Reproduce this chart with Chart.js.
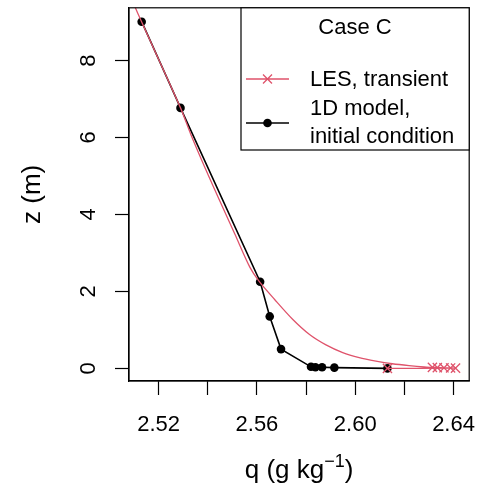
<!DOCTYPE html>
<html>
<head>
<meta charset="utf-8">
<script src="https://cdn.jsdelivr.net/npm/chart.js@4/dist/chart.umd.min.js"></script>
<style>
  html, body { margin: 0; padding: 0; background: #fff; }
  #wrap { width: 477px; height: 489px; }
</style>
</head>
<body>
<div id="wrap"><canvas id="c" width="477" height="489"></canvas></div>
<script>
// LES transient profile, smooth upper part (no markers)
const lesQ = [2.5100, 2.5131, 2.5289, 2.5331, 2.5389, 2.5449, 2.5510, 2.5571, 2.5609, 2.5672, 2.5746, 2.5814, 2.5881, 2.5949, 2.6016, 2.6084, 2.6151, 2.6219, 2.6280];
const lesZ = [9.45, 9.00, 6.77, 6.08, 5.21, 4.35, 3.49, 2.63, 2.26, 1.79, 1.27, 0.88, 0.61, 0.41, 0.28, 0.19, 0.12, 0.07, 0.035];
// LES levels near the surface (drawn with crosses)
const lesNearQ = [2.6314, 2.6334, 2.6361, 2.6388, 2.6408, 2.6131];
const lesNearZ = [0.025, 0.02, 0.015, 0.01, 0.005, 0.0];
// 1D model, initial condition
const modelQ = [2.5131, 2.5289, 2.5613, 2.5652, 2.5698, 2.5820, 2.5838, 2.5865, 2.5915, 2.6131];
const modelZ = [9.01, 6.77, 2.25, 1.35, 0.50, 0.04, 0.03, 0.03, 0.02, 0.0];

const xTicks = [2.52, 2.54, 2.56, 2.58, 2.60, 2.62, 2.64];
const xLabels = [2.52, 2.56, 2.60, 2.64];
const yTicks = [0, 2, 4, 6, 8];

const red = '#DF536B';
const font = '"Liberation Sans", Arial, Helvetica, sans-serif';

const toPts = (qs, zs) => qs.map((q, i) => ({ x: q, y: zs[i] }));
const lesPts = toPts(lesQ, lesZ).concat(toPts(lesNearQ, lesNearZ));

const frame = {
  id: 'frame',
  afterDatasetsDraw(chart) {
    const { ctx, chartArea: a, scales } = chart;
    ctx.save();
    ctx.strokeStyle = '#000';
    ctx.lineWidth = 1.2;
    ctx.strokeRect(a.left, a.top, a.right - a.left, a.bottom - a.top);

    // y tick labels, parallel to the axis
    ctx.fillStyle = '#000';
    ctx.font = '22px ' + font;
    ctx.textAlign = 'center';
    ctx.textBaseline = 'middle';
    scales.y.ticks.forEach(t => {
      const py = scales.y.getPixelForValue(t.value);
      ctx.save();
      ctx.translate(89, py);
      ctx.rotate(-Math.PI / 2);
      ctx.fillText(String(t.value), 0, 0);
      ctx.restore();
    });

    // y title
    ctx.save();
    ctx.font = '26px ' + font;
    ctx.translate(33, (a.top + a.bottom) / 2);
    ctx.rotate(-Math.PI / 2);
    ctx.fillText('z (m)', 0, 0);
    ctx.restore();

    // x title with superscript
    ctx.textAlign = 'left';
    ctx.textBaseline = 'alphabetic';
    const p1 = 'q (g kg', p2 = '\u22121', p3 = ')';
    ctx.font = '26px ' + font;
    const w1 = ctx.measureText(p1).width, w3 = ctx.measureText(p3).width;
    ctx.font = '18px ' + font;
    const w2 = ctx.measureText(p2).width;
    let x0 = (a.left + a.right) / 2 - (w1 + w2 + w3) / 2;
    ctx.font = '26px ' + font;
    ctx.fillText(p1, x0, 478);
    ctx.font = '18px ' + font;
    ctx.fillText(p2, x0 + w1, 467);
    ctx.font = '26px ' + font;
    ctx.fillText(p3, x0 + w1 + w2, 478);

    // legend
    const L = 241, T = a.top, R = a.right, B = 150;
    ctx.fillStyle = '#fff';
    ctx.fillRect(L, T, R - L, B - T);
    ctx.strokeStyle = '#000';
    ctx.lineWidth = 1.2;
    ctx.strokeRect(L, T, R - L, B - T);
    ctx.fillStyle = '#000';
    ctx.font = '22px ' + font;
    ctx.textAlign = 'center';
    ctx.textBaseline = 'middle';
    ctx.fillText('Case C', 355, 28);
    ctx.textAlign = 'left';
    ctx.fillText('LES, transient', 310, 80);
    ctx.fillText('1D model,', 310, 109);
    ctx.fillText('initial condition', 310, 137);

    ctx.strokeStyle = red;
    ctx.lineWidth = 1.3;
    ctx.beginPath();
    ctx.moveTo(246, 79); ctx.lineTo(289, 79);
    const c = 4.5;
    ctx.moveTo(267.5 - c, 79 - c); ctx.lineTo(267.5 + c, 79 + c);
    ctx.moveTo(267.5 - c, 79 + c); ctx.lineTo(267.5 + c, 79 - c);
    ctx.stroke();

    ctx.strokeStyle = '#000';
    ctx.lineWidth = 1.6;
    ctx.beginPath();
    ctx.moveTo(246, 123); ctx.lineTo(289, 123);
    ctx.stroke();
    ctx.beginPath();
    ctx.arc(267.5, 123, 4.3, 0, Math.PI * 2);
    ctx.fill();
    ctx.restore();
  }
};

new Chart(document.getElementById('c'), {
  type: 'scatter',
  data: {
    datasets: [
      {
        label: 'LES, transient',
        data: lesPts,
        showLine: true,
        tension: 0.3,
        borderColor: red,
        borderWidth: 1.3,
        pointStyle: 'crossRot',
        pointRadius: ctx => ctx.dataIndex >= lesQ.length ? 6.5 : 0,
        pointBorderColor: red,
        pointBorderWidth: 1.3,
        clip: 0,
        order: 1
      },
      {
        label: '1D model, initial condition',
        data: toPts(modelQ, modelZ),
        showLine: true,
        borderColor: '#000',
        borderWidth: 1.6,
        pointRadius: 4.3,
        pointBackgroundColor: '#000',
        pointBorderColor: '#000',
        pointBorderWidth: 0,
        clip: 0,
        order: 2
      }
    ]
  },
  options: {
    responsive: false,
    animation: false,
    devicePixelRatio: 1,
    layout: { padding: { left: 0, top: 6, right: 7, bottom: 0 } },
    plugins: { legend: { display: false }, tooltip: { enabled: false } },
    scales: {
      x: {
        type: 'linear',
        min: 2.50794,
        max: 2.64637,
        afterBuildTicks: s => { s.ticks = xTicks.map(v => ({ value: v })); },
        afterFit: s => { s.height = 108; s.paddingLeft = 0; s.paddingRight = 0; },
        grid: { drawOnChartArea: false, drawTicks: true, tickLength: 14, tickColor: '#000', tickWidth: 1.2 },
        border: { display: true, color: '#000', width: 1.2 },
        ticks: {
          autoSkip: false,
          maxRotation: 0,
          padding: 17,
          color: '#000',
          font: { family: font, size: 22 },
          callback: v => xLabels.some(l => Math.abs(l - v) < 1e-6) ? v.toFixed(2) : ''
        }
      },
      y: {
        type: 'linear',
        min: -0.3285,
        max: 9.371,
        afterBuildTicks: s => { s.ticks = yTicks.map(v => ({ value: v })); },
        afterFit: s => { s.width = 129; s.paddingTop = 0; s.paddingBottom = 0; },
        grid: { drawOnChartArea: false, drawTicks: true, tickLength: 14, tickColor: '#000', tickWidth: 1.2 },
        border: { display: true, color: '#000', width: 1.2 },
        ticks: { color: 'rgba(0,0,0,0)', font: { family: font, size: 22 } }
      }
    }
  },
  plugins: [frame]
});
</script>
</body>
</html>
